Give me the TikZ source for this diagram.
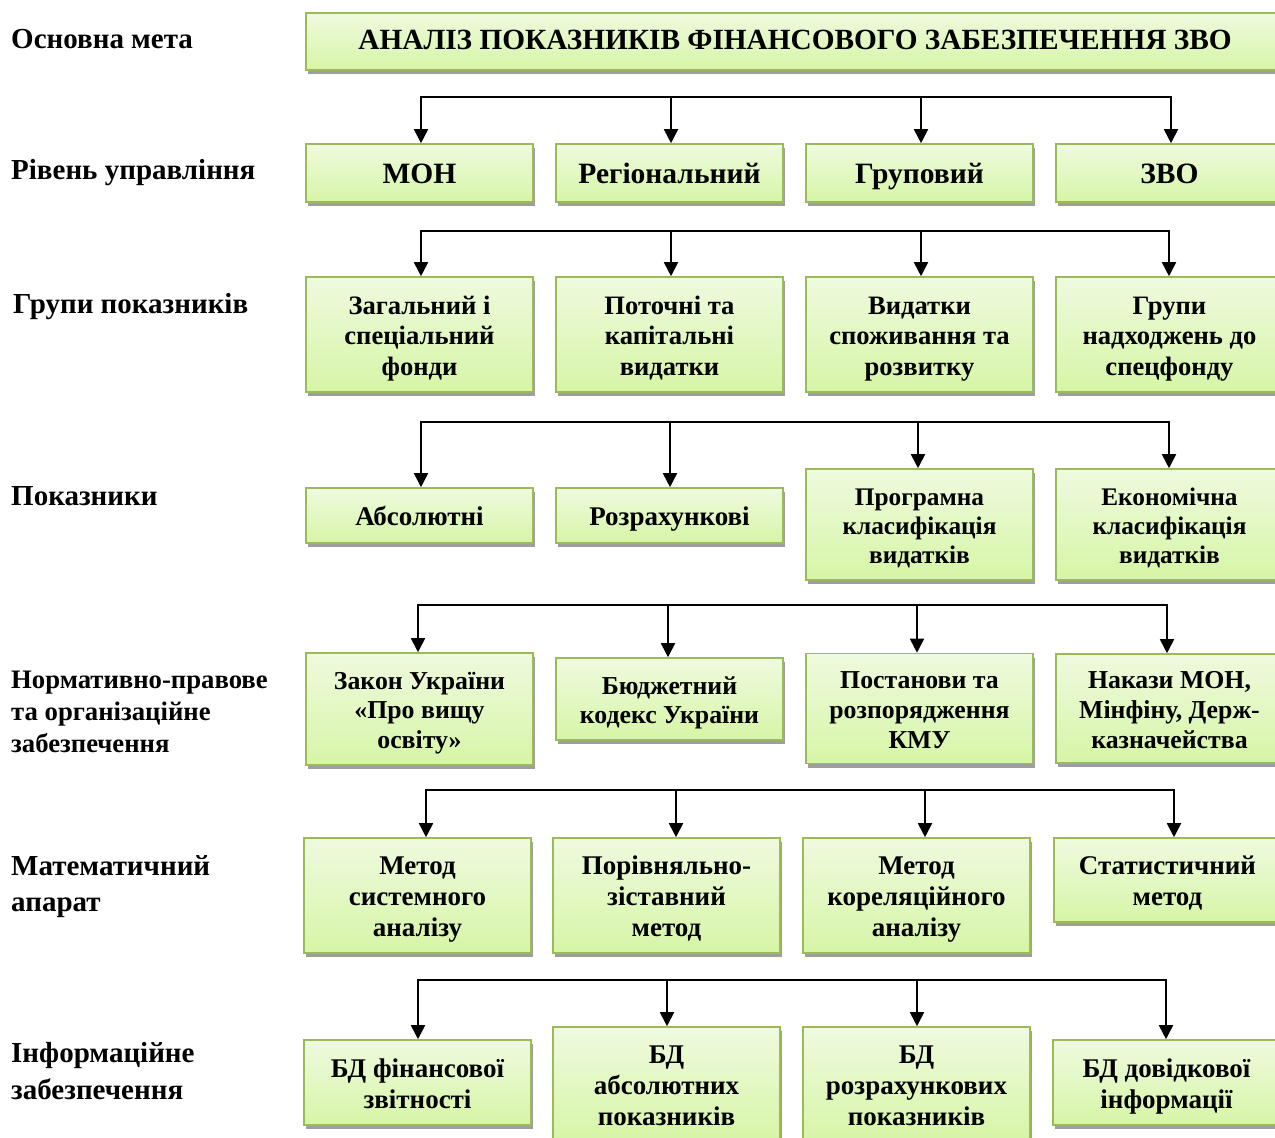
\documentclass[tikz,border=0pt]{standalone}
\usepackage{fontspec}
\setmainfont{Liberation Serif}
\usetikzlibrary{shadows,arrows.meta}
\definecolor{bordergreen}{HTML}{9BBB59}
\definecolor{topgreen}{HTML}{EFFADF}
\definecolor{botgreen}{HTML}{D6F5A6}
\newcommand\fs[1]{\bfseries\fontsize{#1}{\dimexpr #1pt*115/100\relax}\selectfont}
\newcommand\bt[2][-4pt]{\raisebox{#1}[\height][\depth]{\begin{tabular}{@{}c@{}}#2\end{tabular}}}
\tikzset{
  box/.style={draw=bordergreen, line width=1.6pt, top color=topgreen, bottom color=botgreen,
    minimum width=227, inner sep=2pt,
    font=\fs{27},
    drop shadow={shadow xshift=2pt, shadow yshift=-4pt, fill=black!38, opacity=1}},
  lab/.style={anchor=west, align=left, inner sep=0pt, font=\bfseries\fontsize{29}{32}\selectfont},
  bar/.style={line width=1.8pt, line cap=rect},
  arr/.style={line width=1.8pt, -{Triangle[length=14pt,width=14pt]}}
}
\begin{document}
\begin{tikzpicture}[x=1pt,y=-1pt]
\useasboundingbox (0,0) rectangle (1275,1138);
\fill[white] (0,0) rectangle (1275,1138);
% left labels
\node[lab] (l1) at (11,39) {Основна мета};
\node[lab] (l2) at (11,173) {Рівень управління};
\node[lab] (l3) at (13,307) {Групи показників};
\node[lab] (l4) at (11,496) {Показники};
\node[lab, font=\bfseries\fontsize{26.7}{32}\selectfont] (l5) at (11,712) {Нормативно-правове\\та організаційне\\забезпечення};
\node[lab, font=\bfseries\fontsize{29}{36}\selectfont] (l6) at (11,887) {Математичний\\апарат};
\node[lab, font=\bfseries\fontsize{29}{37}\selectfont] (l7) at (11,1071.5) {Інформаційне\\забезпечення};
% title
\node[box, minimum width=978, minimum height=57, font=\fs{29.3}] (t) at (795,41.5) {\bt[-1.5pt]{АНАЛІЗ ПОКАЗНИКІВ ФІНАНСОВОГО ЗАБЕЗПЕЧЕННЯ ЗВО}};
% row 1
\node[box, minimum height=58, font=\fs{29.5}] (a1) at (419.5,173) {\bt{МОН}};
\node[box, minimum height=58, font=\fs{29.5}] (b1) at (669.5,173) {\bt{Регіональний}};
\node[box, minimum height=58, font=\fs{29.5}] (c1) at (919.5,173) {\bt{Груповий}};
\node[box, minimum height=58, font=\fs{29.5}] (d1) at (1169.5,173) {\bt{ЗВО}};
% row 2
\node[box, minimum height=115, font=\fs{26.6}] (a2) at (419.5,334.5) {\bt{Загальний і\\спеціальний\\фонди}};
\node[box, minimum height=115, font=\fs{26.6}] (b2) at (669.5,334.5) {\bt{Поточні та\\капітальні\\видатки}};
\node[box, minimum height=115, font=\fs{26.6}] (c2) at (919.5,334.5) {\bt{Видатки\\споживання та\\розвитку}};
\node[box, minimum height=115, font=\fs{26.6}] (d2) at (1169.5,334.5) {\bt{Групи\\надходжень до\\спецфонду}};
% row 3
\node[box, minimum height=55] (a3) at (419.5,515.5) {\bt{Абсолютні}};
\node[box, minimum height=55] (b3) at (669.5,515.5) {\bt{Розрахункові}};
\node[box, minimum height=111, font=\fs{25.3}] (c3) at (919.5,524.5) {\bt{Програмна\\класифікація\\видатків}};
\node[box, minimum height=111, font=\fs{25.3}] (d3) at (1169.5,524.5) {\bt{Економічна\\класифікація\\видатків}};
% row 4
\node[box, minimum height=112, font=\fs{25.8}] (a4) at (419.5,709) {\bt{Закон України\\«Про вищу\\освіту»}};
\node[box, minimum height=82, font=\fs{25.8}] (b4) at (669.5,699) {\bt{Бюджетний\\кодекс України}};
\node[box, minimum height=110, font=\fs{25.8}] (c4) at (919.5,708.5) {\bt{Постанови та\\розпорядження\\КМУ}};
\node[box, minimum height=109, font=\fs{25.8}] (d4) at (1169.5,708.5) {\bt{Накази МОН,\\Мінфіну, Держ-\\казначейства}};
% row 5
\node[box, minimum height=115] (a5) at (417.5,895.5) {\bt{Метод\\системного\\аналізу}};
\node[box, minimum height=115] (b5) at (666.5,895.5) {\bt{Порівняльно-\\зіставний\\метод}};
\node[box, minimum height=115] (c5) at (916.5,895.5) {\bt{Метод\\кореляційного\\аналізу}};
\node[box, minimum height=84] (d5) at (1167.5,880) {\bt{Статистичний\\метод}};
% row 6
\node[box, minimum height=85] (a6) at (417.5,1082.5) {\bt{БД фінансової\\звітності}};
\node[box, minimum height=115] (b6) at (666.5,1084.5) {\bt{БД\\абсолютних\\показників}};
\node[box, minimum height=115] (c6) at (916.5,1084.5) {\bt{БД\\розрахункових\\показників}};
\node[box, minimum height=85] (d6) at (1166.5,1082.5) {\bt{БД довідкової\\інформації}};
% connectors
\foreach \r/\y/\xa/\xb/\xc/\xd in {1/97/421/671/921/1171, 2/231/421/671/921/1169, 3/422/421/670/918/1169, 4/605/418/668/917/1167, 5/790/426/676/925/1174, 6/980/418/667/917/1166}{
  \coordinate (pa\r) at (\xa,\y);
  \coordinate (pb\r) at (\xb,\y);
  \coordinate (pc\r) at (\xc,\y);
  \coordinate (pd\r) at (\xd,\y);
  \draw[bar] (pa\r) -- (pd\r);
  \draw[arr] (pa\r) -- (pa\r |- a\r.north);
  \draw[arr] (pb\r) -- (pb\r |- b\r.north);
  \draw[arr] (pc\r) -- (pc\r |- c\r.north);
  \draw[arr] (pd\r) -- (pd\r |- d\r.north);
}
\end{tikzpicture}
\end{document}
